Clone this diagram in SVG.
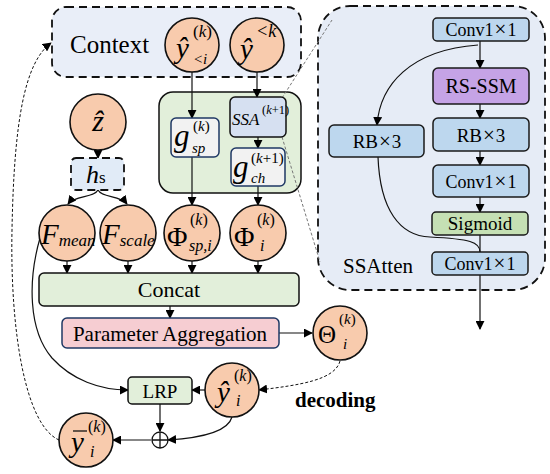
<svg xmlns="http://www.w3.org/2000/svg" width="550" height="474" viewBox="0 0 550 474">
<defs>
<marker id="ah" viewBox="0 0 10 10" refX="9" refY="5" markerWidth="9" markerHeight="9" markerUnits="userSpaceOnUse" orient="auto"><path d="M0,0 L10,5 L0,10 z" fill="#000"/></marker>
</defs>
<style>
.it{font-style:italic}
.c{fill:#f8cbad;stroke:#111;stroke-width:1.6}
.dash{stroke:#111;stroke-width:1.8;stroke-dasharray:8,5}
.ln{fill:none;stroke:#111;stroke-width:1.2}
.dl{fill:none;stroke:#111;stroke-width:1;stroke-dasharray:3,2}
.gl{fill:none;stroke:#777;stroke-width:1;stroke-dasharray:3,2}
.bx{stroke:#111;stroke-width:1.5}
.conv{fill:#bdd7ee;stroke:#1a1a1a;stroke-width:1.5}
</style>
<rect width="550" height="474" fill="#fff"/>

<g id="ssatten">
<rect x="318" y="6" width="227" height="284" rx="32" fill="#e6ecf6" class="dash"/>
<text font-family="Liberation Serif" x="343" y="273" font-size="21">SSAtten</text>
</g>
<g id="context">
<rect x="52" y="7" width="249" height="70" rx="14" fill="#e9eef8" class="dash"/>
<text font-family="Liberation Serif" x="70" y="53" font-size="25">Context</text>
</g>
<g id="greenbox"><rect x="159" y="92" width="142" height="101" rx="14" fill="#e2efda" class="bx"/></g>

<g id="connectors">
<path class="gl" d="M282,98 L332,20"/>
<path class="gl" d="M282,137 L320,262"/>
<path class="ln" marker-end="url(#ah)" d="M192,72 V118"/>
<path class="ln" marker-end="url(#ah)" d="M257,72 V97"/>
<path class="ln" marker-end="url(#ah)" d="M258,137 V148"/>
<path class="ln" marker-end="url(#ah)" d="M192,157 V205"/>
<path class="ln" marker-end="url(#ah)" d="M258,186 V205"/>
<path class="ln" marker-end="url(#ah)" d="M98,150 V158"/>
<path class="ln" marker-end="url(#ah)" d="M98,190 C94,198 75,195 68,204"/>
<path class="ln" marker-end="url(#ah)" d="M98,190 C102,198 120,195 127,204"/>
<path class="ln" marker-end="url(#ah)" d="M67,261 V273"/>
<path class="ln" marker-end="url(#ah)" d="M128,261 V273"/>
<path class="ln" marker-end="url(#ah)" d="M192,261 V273"/>
<path class="ln" marker-end="url(#ah)" d="M258,261 V273"/>
<path class="ln" marker-end="url(#ah)" d="M170,306 V318"/>
<path class="ln" marker-end="url(#ah)" d="M279,333 H312"/>
<path class="ln" marker-end="url(#ah)" d="M40,238 C28,280 28,330 52,358 C72,380 100,390 128,390"/>
<path class="ln" marker-end="url(#ah)" d="M205,390 H192"/>
<path class="dl" marker-end="url(#ah)" d="M340,361 C335,380 300,385 259,390"/>
<path class="ln" marker-end="url(#ah)" d="M160,404 V431"/>
<path class="ln" marker-end="url(#ah)" d="M232,417 C228,432 200,438 168,440"/>
<path class="ln" marker-end="url(#ah)" d="M151,440 H113"/>
<path class="dl" marker-end="url(#ah)" d="M59,440 C25,425 10,330 12,230 C14,120 25,62 51,43"/>
<path class="ln" marker-end="url(#ah)" d="M480,41 V68"/>
<path class="ln" marker-end="url(#ah)" d="M480,104 V118"/>
<path class="ln" marker-end="url(#ah)" d="M480,151 V165"/>
<path class="ln" marker-end="url(#ah)" d="M480,197 V212"/>
<path class="ln" d="M480,235 V252"/>
<path class="ln" marker-end="url(#ah)" d="M478,45 C410,50 380,85 377,125"/>
<path class="ln" d="M378,157 C380,210 400,236 430,237 C470,239 480,242 480,252"/>
<path class="ln" marker-end="url(#ah)" d="M480,275 V329"/>
</g>

<g id="y_lt_i">
<circle class="c" cx="192" cy="45" r="27"/>
<text font-family="Liberation Serif" x="176" y="58" font-size="29" class="it">ŷ</text>
<text font-family="Liberation Serif" x="193" y="37" font-size="17">(<tspan class="it">k</tspan>)</text>
<text font-family="Liberation Serif" x="193" y="64" font-size="15" class="it">&lt;i</text>
</g>
<g id="y_lt_k">
<circle class="c" cx="257" cy="45" r="27"/>
<text font-family="Liberation Serif" x="240" y="59" font-size="29" class="it">ŷ</text>
<text font-family="Liberation Serif" x="256" y="37" font-size="18" class="it">&lt;k</text>
</g>
<g id="z_hat">
<circle class="c" cx="98" cy="122" r="28"/>
<text font-family="Liberation Serif" x="98" y="131" font-size="30" class="it" text-anchor="middle">ẑ</text>
</g>
<g id="hs">
<rect x="71" y="158" width="53" height="32" rx="5" fill="#e1ebf7" class="dash" stroke-width="1.6"/>
<text font-family="Liberation Serif" x="86" y="183" font-size="26" class="it">h<tspan font-size="17" font-style="normal">s</tspan></text>
</g>
<g id="g_sp">
<rect x="171" y="118" width="48" height="39" rx="5" fill="#f2f2f2" stroke="#1f3864" stroke-width="1.5"/>
<text font-family="Liberation Serif" x="174" y="146" font-size="31" class="it">g</text>
<text font-family="Liberation Serif" x="193" y="131" font-size="15">(<tspan class="it">k</tspan>)</text>
<text font-family="Liberation Serif" x="192" y="153" font-size="15" class="it">sp</text>
</g>
<g id="ssa">
<rect x="230" y="97" width="56" height="40" rx="5" fill="#d6e0f1" class="bx"/>
<text font-family="Liberation Serif" x="232" y="125" font-size="17" class="it">SSA</text>
<text font-family="Liberation Serif" x="262" y="114" font-size="12.5">(<tspan class="it">k</tspan>+1)</text>
</g>
<g id="g_ch">
<rect x="231" y="148" width="54" height="38" rx="5" fill="#f2f2f2" stroke="#1f3864" stroke-width="1.5"/>
<text font-family="Liberation Serif" x="233" y="177" font-size="31" class="it">g</text>
<text font-family="Liberation Serif" x="251" y="163" font-size="15">(<tspan class="it">k</tspan>+1)</text>
<text font-family="Liberation Serif" x="251" y="183" font-size="15" class="it">ch</text>
</g>
<g id="f_mean">
<circle class="c" cx="67" cy="233" r="28"/>
<text font-family="Liberation Serif" x="41" y="244" font-size="29" class="it">F<tspan font-size="17" dy="2">mean</tspan></text>
</g>
<g id="f_scale">
<circle class="c" cx="128" cy="233" r="28"/>
<text font-family="Liberation Serif" x="102" y="244" font-size="29" class="it">F<tspan font-size="17" dy="2">scale</tspan></text>
</g>
<g id="phi_sp">
<circle class="c" cx="192" cy="233" r="28"/>
<text font-family="Liberation Serif" x="167" y="246" font-size="28">Φ</text>
<text font-family="Liberation Serif" x="190" y="225" font-size="16">(<tspan class="it">k</tspan>)</text>
<text font-family="Liberation Serif" x="189" y="251" font-size="16" class="it">sp,i</text>
</g>
<g id="phi_i">
<circle class="c" cx="258" cy="233" r="28"/>
<text font-family="Liberation Serif" x="234" y="246" font-size="28">Φ</text>
<text font-family="Liberation Serif" x="257" y="225" font-size="16">(<tspan class="it">k</tspan>)</text>
<text font-family="Liberation Serif" x="260" y="251" font-size="16" class="it">i</text>
</g>
<g id="concat">
<rect x="39" y="273" width="260" height="33" rx="5" fill="#e2efda" class="bx"/>
<text font-family="Liberation Serif" x="169" y="297" font-size="22" text-anchor="middle">Concat</text>
</g>
<g id="param_agg">
<rect x="62" y="318" width="217" height="30" rx="5" fill="#f6cdd2" stroke="#1f3864" stroke-width="1.5"/>
<text font-family="Liberation Serif" x="170" y="341" font-size="21" text-anchor="middle">Parameter Aggregation</text>
</g>
<g id="theta">
<circle class="c" cx="340" cy="333" r="27"/>
<text font-family="Liberation Serif" x="318" y="343" font-size="25">Θ</text>
<text font-family="Liberation Serif" x="339" y="324" font-size="15">(<tspan class="it">k</tspan>)</text>
<text font-family="Liberation Serif" x="343" y="349" font-size="15" class="it">i</text>
</g>
<g id="lrp">
<rect x="128" y="377" width="64" height="27" rx="4" fill="#e2efda" class="bx"/>
<text font-family="Liberation Serif" x="160" y="398" font-size="19" text-anchor="middle">LRP</text>
</g>
<g id="y_hat_i">
<circle class="c" cx="232" cy="390" r="27"/>
<text font-family="Liberation Serif" x="217" y="402" font-size="29" class="it">ŷ</text>
<text font-family="Liberation Serif" x="234" y="381" font-size="16">(<tspan class="it">k</tspan>)</text>
<text font-family="Liberation Serif" x="236" y="406" font-size="16" class="it">i</text>
</g>
<text font-family="Liberation Serif" x="295" y="407" font-size="21" font-weight="bold">decoding</text>
<g id="oplus">
<circle cx="160" cy="440" r="8" fill="#fff" stroke="#111" stroke-width="1.3"/>
<path d="M152,440 H168 M160,432 V448" stroke="#111" stroke-width="1.3"/>
</g>
<g id="y_bar_i">
<circle class="c" cx="86" cy="440" r="27"/>
<text font-family="Liberation Serif" x="71" y="452" font-size="29" class="it">y</text>
<path d="M73,431 H87" stroke="#111" stroke-width="1.3"/>
<text font-family="Liberation Serif" x="88" y="432" font-size="16">(<tspan class="it">k</tspan>)</text>
<text font-family="Liberation Serif" x="90" y="457" font-size="16" class="it">i</text>
</g>

<g id="conv_top"><rect x="433" y="18" width="96" height="23" rx="4" class="conv"/><text font-family="Liberation Serif" x="481" y="36" font-size="18" text-anchor="middle">Conv1<tspan dx="1" font-size="21">×</tspan><tspan dx="1">1</tspan></text></g>
<g id="rs_ssm"><rect x="433" y="68" width="96" height="36" rx="5" fill="#c5a3e6" stroke="#1a1a1a" stroke-width="1.5"/><text font-family="Liberation Serif" x="481" y="93" font-size="20" text-anchor="middle">RS-SSM</text></g>
<g id="rb_right"><rect x="433" y="118" width="96" height="33" rx="5" class="conv"/><text font-family="Liberation Serif" x="481" y="142" font-size="19" text-anchor="middle">RB<tspan dx="1" font-size="21">×</tspan><tspan dx="1">3</tspan></text></g>
<g id="conv_mid"><rect x="433" y="165" width="96" height="32" rx="5" class="conv"/><text font-family="Liberation Serif" x="481" y="188" font-size="18" text-anchor="middle">Conv1<tspan dx="1" font-size="21">×</tspan><tspan dx="1">1</tspan></text></g>
<g id="rb_left"><rect x="329" y="125" width="95" height="32" rx="5" class="conv"/><text font-family="Liberation Serif" x="377" y="148" font-size="19" text-anchor="middle">RB<tspan dx="1" font-size="21">×</tspan><tspan dx="1">3</tspan></text></g>
<g id="sigmoid"><rect x="432" y="212" width="96" height="23" rx="4" fill="#c5e0b4" stroke="#1a1a1a" stroke-width="1.5"/><text font-family="Liberation Serif" x="480" y="230" font-size="19" text-anchor="middle">Sigmoid</text></g>
<g id="conv_bot"><rect x="432" y="252" width="96" height="23" rx="4" class="conv"/><text font-family="Liberation Serif" x="480" y="270" font-size="18" text-anchor="middle">Conv1<tspan dx="1" font-size="21">×</tspan><tspan dx="1">1</tspan></text></g>
</svg>
